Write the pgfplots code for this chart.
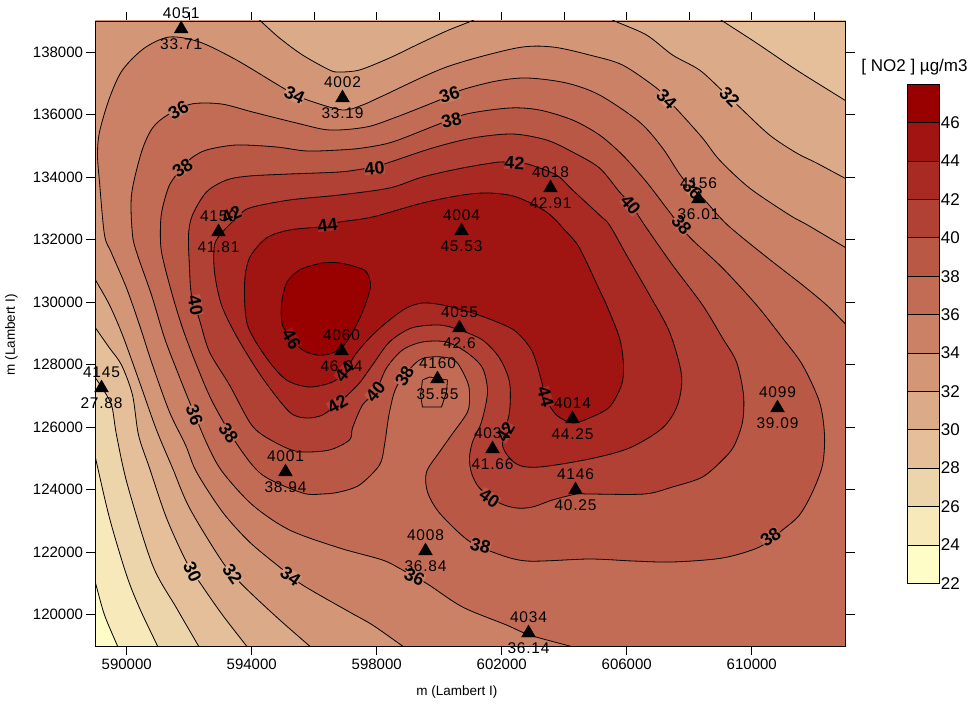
\documentclass[border=0pt]{standalone}
\usepackage{fontspec}
\setmainfont{Liberation Sans}
\newfontfamily\stfont[LetterSpace=5]{Liberation Sans}
\usepackage{pgfplots}
\usepackage{pgfplotstable}
\pgfplotsset{compat=1.18}
\definecolor{c22}{HTML}{FEFDC8}
\definecolor{c24}{HTML}{F7E9BA}
\definecolor{c26}{HTML}{EDD5AB}
\definecolor{c28}{HTML}{E4BF9A}
\definecolor{c30}{HTML}{DBAA88}
\definecolor{c32}{HTML}{D39778}
\definecolor{c34}{HTML}{CB8166}
\definecolor{c36}{HTML}{C26C55}
\definecolor{c38}{HTML}{B95845}
\definecolor{c40}{HTML}{B14135}
\definecolor{c42}{HTML}{A92A23}
\definecolor{c44}{HTML}{A01511}
\definecolor{c46}{HTML}{990000}
\pgfplotstableread{
x y id val
591742 138776 4051 33.71
596904 136568 4002 33.19
603560 133688 4018 42.91
608296 133336 4156 36.01
592936 132280 4150 41.81
600712 132312 4004 45.53
596872 128472 4060 46.04
600648 129208 4055 42.6
599944 127576 4160 35.55
589192 127288 4145 27.88
604264 126296 4014 44.25
610824 126648 4099 39.09
601704 125336 4032 41.66
595080 124600 4001 38.94
604360 124024 4146 40.25
599560 122072 4008 36.84
602856 119448 4034 36.14
}\stations
\pgfplotsset{
  cont/.style={smooth, draw=black, line width=0.8pt, no marks, forget plot},
}
\tikzset{
  clab/.style={font=\fontsize{18}{18}\selectfont\bfseries, text=black, inner sep=0pt},
}
\begin{document}
\begin{tikzpicture}
\useasboundingbox (0,0) rectangle (972pt,705pt);
% top ticks
\begin{axis}[
  at={(95.5pt,59pt)}, anchor=south west, width=750pt, height=625pt, scale only axis,
  xmin=589000, xmax=613000, ymin=119000, ymax=139000,
  xtick={590000,592000,...,612000}, xticklabels={}, xtick pos=upper, ytick=\empty,
  scaled ticks=false,
  tick align=outside, major tick length=9pt, tick style={black, line width=0.8pt},
  axis line style={line width=0.8pt},
]
\end{axis}
\begin{axis}[
  at={(95.5pt,59pt)}, anchor=south west, width=750pt, height=625pt, scale only axis,
  xmin=589000, xmax=613000, ymin=119000, ymax=139000,
  clip mode=individual, axis on top,
  xtick={590000,594000,...,610000}, xtick pos=lower,
  ytick={120000,122000,...,138000}, ytick pos=both,
  scaled ticks=false,
  tick align=outside, major tick length=9pt, tick style={black, line width=0.8pt},
  axis line style={line width=0.8pt},
  /pgf/number format/assume math mode=true,
  /pgf/number format/fixed, /pgf/number format/precision=0,
  /pgf/number format/1000 sep={}, 
  ticklabel style={font=\fontsize{15}{15}\selectfont},
  xlabel={m (Lambert I)}, ylabel={m (Lambert I)},
  label style={font=\fontsize{13.5}{14}\selectfont},
  xlabel style={at={(axis description cs:0.482,0)}, anchor=center, yshift=-46pt},
  ylabel style={at={(axis description cs:0,0.498)}, anchor=center, yshift=84pt},
]
% background: below 24
\addplot[fill=c22, draw=none, forget plot] coordinates {(584600,143200)(617300,143200)(617300,114700)(584600,114700)} -- cycle;
% >= 24
\addplot[cont, fill=c24] coordinates {(587848,125112)(588712,122040)(589000,121016)(589288,119992)(589704,119000)(590120,118008)(591368,115032)(617300,114700)(617300,143200)(584600,143200)(584600,125112)};
% >= 26
\addplot[cont, fill=c26] coordinates {(588104,128856)(588776,125976)(589000,125016)(589448,123096)(589992,121272)(590408,120216)(590984,119000)(591432,118040)(592840,115032)(617300,114700)(617300,143200)(584600,143200)(584600,128856)};
% >= 28
\addplot[cont, fill=c28] coordinates {(587464,129880)(588616,128152)(589000,127576)(589192,127288)(589512,126712)(589672,125752)(590024,124152)(590824,121592)(591592,120216)(592296,119000)(592840,118040)(594472,115224)(617300,114700)(617300,143200)(584600,143200)(584600,129880)};
% >= 30
\addplot[cont, fill=c30] coordinates {(587208,131736)(588552,129816)(589000,129176)(589448,128536)(589832,127992)(590184,127032)(590376,125752)(590728,124696)(591272,123096)(591912,121688)(592392,120952)(593064,119992)(593832,119000)(594600,118008)(596904,115032)(617300,114700)(616808,134072)(613928,135864)(612968,136472)(611432,137432)(610152,138296)(609064,139000)(607976,139704)(604712,141816)(584600,143200)(584600,131736)};
% >= 32
\addplot[cont, fill=c32] coordinates {(587208,133912)(588552,131512)(589000,130712)(589448,129912)(589864,128952)(590408,127448)(590952,125912)(591464,124696)(592008,123416)(593064,121688)(593704,120952)(594792,119928)(595848,119000)(596904,118072)(600136,115224)(617300,114700)(616584,132056)(613864,133496)(612968,133976)(612072,134456)(611432,134776)(610568,135352)(609608,136248)(609032,136792)(608328,137432)(607464,137912)(606632,138552)(605608,139000)(604584,139448)(601992,139416)(601032,139000)(600232,138680)(599272,138232)(598408,137816)(597448,137432)(596808,137368)(596488,137432)(595624,137912)(594888,138456)(594280,139000)(593672,139544)(592488,140632)(589128,143512)(584600,143200)(584600,133912)};
% >= 34
\addplot[cont, fill=c34] coordinates {(616648,129592)(614088,131096)(612968,131768)(611784,132472)(611208,132792)(609928,133656)(608968,134552)(608424,135256)(607624,136152)(607272,136504)(606952,136856)(605864,137592)(604808,137912)(603624,138168)(602472,138136)(600232,137528)(598184,136600)(597544,136312)(596904,136152)(595784,136472)(595112,136792)(593512,137752)(592328,138328)(591368,138488)(590568,138136)(589864,137432)(589448,136536)(589128,135448)(589064,134712)(589128,133848)(589288,132152)(589512,131576)(589992,130456)(590408,129272)(590824,127992)(591368,126488)(591880,125432)(592232,124568)(593064,123288)(593928,122328)(594888,121528)(595624,120952)(597128,120088)(597864,119672)(598824,119000)(599784,118328)(605128,114712)(617300,114700)};
% >= 36
\addplot[cont, fill=c36] coordinates {(616648,125656)(613928,128376)(612968,129336)(612392,129912)(611624,130552)(610472,131448)(609224,132472)(608488,133272)(607784,133976)(607144,134936)(606408,135768)(605128,136632)(604072,137016)(602824,137176)(601832,137080)(600712,136792)(600008,136472)(598632,135928)(597672,135608)(596488,135512)(595432,135736)(594024,136088)(593032,136344)(592072,136344)(591304,135992)(590824,135576)(590472,134808)(590152,133432)(590184,132152)(590344,131512)(590792,130232)(591208,128856)(591624,127768)(592008,126808)(592584,125432)(593064,124568)(594024,123512)(595208,122712)(596808,122136)(598184,121752)(598824,121432)(599624,120984)(600744,120248)(602152,119672)(602888,119352)(604168,119000)(605448,118648)(608008,117272)(617300,114700)};
% >= 38
\addplot[cont, fill=c38] coordinates {(591752,134296)(592072,134616)(592552,134872)(593512,135032)(594792,134968)(595752,134840)(596808,134872)(597544,134936)(598504,135128)(599912,135672)(600872,136024)(602248,136216)(603208,136152)(604264,135832)(605128,135352)(605864,134712)(606632,133848)(607368,132888)(608008,132088)(609064,131096)(610152,129912)(610984,128856)(611624,127992)(612168,126808)(612328,125752)(612264,124792)(611944,123928)(611528,123192)(610984,122712)(610248,122168)(609064,121816)(607464,121688)(606184,121720)(604808,121784)(602792,121720)(601704,122008)(600904,122392)(600008,123256)(599624,123928)(599592,124568)(600008,125208)(600392,125752)(600904,126488)(600968,127032)(600904,127448)(600552,128088)(600104,128248)(599368,128152)(598664,127352)(598408,126488)(598248,125432)(598088,124792)(597448,124152)(596808,123928)(596264,123864)(595624,123896)(594344,124472)(593544,125432)(592744,126808)(592232,127992)(591784,129176)(591432,130328)(591112,131608)(591080,132472)(591144,133016)(591368,133752)(591752,134296)};
% island around 4160
\addplot[draw=black, line width=0.8pt, no marks, forget plot] coordinates {(599464,127512)(599688,127608)(600264,127512)(600232,127128)(600072,126648)(599464,126648)(599400,127032)(599464,127512)};
% >= 40
\addplot[cont, fill=c40] coordinates {(597928,134328)(598344,134456)(599784,134936)(601064,135256)(602344,135384)(603432,135192)(604264,134808)(605128,134296)(605768,133528)(606152,133112)(606568,132472)(607464,131192)(608424,129912)(609064,128856)(609512,128088)(609736,127032)(609704,126168)(609448,125432)(609128,125016)(608424,124408)(607464,124088)(606568,123864)(604808,123864)(604392,123864)(603624,123672)(602984,123448)(602472,123416)(601928,123576)(601288,124056)(601032,124536)(600968,125016)(601064,125528)(601352,126168)(601544,127128)(601384,127896)(600904,128376)(600232,128728)(599464,128728)(598824,128472)(598312,127896)(597960,127128)(597544,126712)(597224,125976)(597128,125592)(596488,125272)(595624,125208)(595112,125336)(594344,125752)(593928,126168)(593288,127352)(592648,128408)(592328,129432)(592072,130232)(592008,131096)(591976,132152)(592104,132792)(592552,133528)(593192,133912)(593928,134040)(595208,134104)(596808,134168)(597544,134264)(597928,134328)};
% >= 42
\addplot[cont, fill=c42] coordinates {(602408,134456)(602824,134424)(603752,134072)(604264,133592)(605128,132792)(605448,132472)(605992,131512)(606728,130232)(607368,129048)(607752,127672)(607624,126712)(607144,125976)(606088,125336)(604808,124984)(603208,124728)(602472,124824)(602024,125432)(602248,126488)(602248,127448)(601928,128216)(601384,128792)(600648,129112)(600008,129272)(599112,129176)(598408,128728)(597864,127992)(597448,127416)(597064,127032)(596744,126744)(596264,126392)(595752,126296)(595208,126488)(594344,127576)(593544,128856)(593032,129912)(592808,130968)(592808,131832)(593064,132248)(593512,132696)(593928,133016)(595208,133272)(596808,133432)(598408,133656)(599464,134008)(600744,134296)(601928,134488)(602408,134456)};
% >= 44
\addplot[cont, fill=c44] coordinates {(596424,132472)(596808,132568)(597864,132728)(599464,133176)(600744,133432)(601608,133496)(602472,133368)(603432,132888)(604072,132248)(604488,131736)(605128,130392)(605352,129912)(605768,128856)(605896,127992)(605832,127352)(605448,126648)(604808,126296)(604264,126136)(603752,126392)(603368,126968)(603304,127352)(602984,128408)(602472,129048)(601928,129336)(601064,129656)(600104,129912)(599464,129976)(598952,129816)(598408,129432)(597864,128952)(597352,128376)(596968,127768)(596584,127448)(595848,127288)(595112,127512)(594472,128216)(593864,129272)(593768,130552)(593928,131416)(594472,132056)(595208,132312)(596168,132408)(596424,132472)};
% >= 46
\addplot[cont, fill=c46] coordinates {(595272,128824)(594984,129272)(594952,129912)(595112,130616)(595528,131032)(596264,131256)(596808,131256)(597352,131128)(597672,130968)(597800,130488)(597544,129688)(597224,129048)(596904,128568)(596488,128344)(596072,128312)(595624,128472)(595272,128824)};
% contour labels
\node[clab, fill=c32, rotate=-25] at (axis cs:595368,136632) {34};
\node[clab, fill=c34, rotate=30] at (axis cs:591656,136152) {36};
\node[clab, fill=c36, rotate=35] at (axis cs:591784,134296) {38};
\node[clab, fill=c40, rotate=25] at (axis cs:593352,132792) {42};
\node[clab, fill=c42, rotate=7] at (axis cs:596424,132472) {44};
\node[clab, fill=c38, rotate=5] at (axis cs:597928,134296) {40};
\node[clab, fill=c36, rotate=13] at (axis cs:600392,135832) {38};
\node[clab, fill=c34, rotate=17] at (axis cs:600328,136632) {36};
\node[clab, fill=c40, rotate=-3] at (axis cs:602408,134456) {42};
\node[clab, fill=c32, rotate=-45] at (axis cs:607272,136504) {34};
\node[clab, fill=c30, rotate=-45] at (axis cs:609288,136568) {32};
\node[clab, fill=c38, rotate=-50] at (axis cs:606120,133112) {40};
\node[clab, fill=c36, rotate=-50] at (axis cs:607752,132472) {38};
\node[clab, fill=c34, rotate=-50] at (axis cs:608104,133592) {36};
\node[clab, fill=c38, rotate=-80] at (axis cs:592200,129912) {40};
\node[clab, fill=c44, rotate=-60] at (axis cs:595272,128824) {46};
\node[clab, fill=c42, rotate=50] at (axis cs:596968,127768) {44};
\node[clab, fill=c40, rotate=30] at (axis cs:596744,126744) {42};
\node[clab, fill=c34, rotate=-70] at (axis cs:592168,126392) {36};
\node[clab, fill=c36, rotate=-55] at (axis cs:593256,125816) {38};
\node[clab, fill=c28, rotate=-65] at (axis cs:592104,121368) {30};
\node[clab, fill=c30, rotate=-55] at (axis cs:593384,121304) {32};
\node[clab, fill=c32, rotate=-35] at (axis cs:595240,121240) {34};
\node[clab, fill=c38, rotate=50] at (axis cs:597960,127128) {40};
\node[clab, fill=c36, rotate=60] at (axis cs:598888,127640) {38};
\node[clab, fill=c42, rotate=-75] at (axis cs:603400,126968) {44};
\node[clab, fill=c40, rotate=60] at (axis cs:602120,125848) {42};
\node[clab, fill=c38, rotate=-35] at (axis cs:601608,123736) {40};
\node[clab, fill=c36, rotate=-15] at (axis cs:601320,122200) {38};
\node[clab, fill=c34, rotate=-25] at (axis cs:599208,121208) {36};
\node[clab, fill=c36, rotate=35] at (axis cs:610600,122488) {38};
% stations
\addplot[only marks, mark=triangle*, mark size=8pt, mark options={black, draw=black, fill=black, yshift=-1pt},
  point meta=explicit symbolic, nodes near coords,
  every node near coord/.append style={font=\stfont\fontsize{15.5}{16}\selectfont, anchor=south, inner sep=0pt, yshift=10pt, black}]
  table[x=x, y=y, meta=id] {\stations};
\addplot[only marks, mark=none,
  point meta=explicit symbolic, nodes near coords,
  every node near coord/.append style={font=\stfont\fontsize{15.5}{16}\selectfont, anchor=north, inner sep=0pt, yshift=-10pt, black}]
  table[x=x, y=y, meta=val] {\stations};
\end{axis}
% colour scale
\begin{axis}[
  at={(907.3pt,121.7pt)}, anchor=south west, width=32.4pt, height=499pt, scale only axis,
  xmin=0, xmax=1, ymin=22, ymax=48,
  xtick=\empty, ytick={22,24,...,46}, ytick pos=right, yticklabel pos=right,
  major tick length=0pt, axis on top, axis line style={line width=0.8pt},
  /pgf/number format/assume math mode=true,
  ticklabel style={font=\fontsize{17}{17}\selectfont, inner sep=1pt},
]
\addplot[fill=c22, draw=black, line width=0.8pt] coordinates {(0,22)(1,22)(1,24)(0,24)} -- cycle;
\addplot[fill=c24, draw=black, line width=0.8pt] coordinates {(0,24)(1,24)(1,26)(0,26)} -- cycle;
\addplot[fill=c26, draw=black, line width=0.8pt] coordinates {(0,26)(1,26)(1,28)(0,28)} -- cycle;
\addplot[fill=c28, draw=black, line width=0.8pt] coordinates {(0,28)(1,28)(1,30)(0,30)} -- cycle;
\addplot[fill=c30, draw=black, line width=0.8pt] coordinates {(0,30)(1,30)(1,32)(0,32)} -- cycle;
\addplot[fill=c32, draw=black, line width=0.8pt] coordinates {(0,32)(1,32)(1,34)(0,34)} -- cycle;
\addplot[fill=c34, draw=black, line width=0.8pt] coordinates {(0,34)(1,34)(1,36)(0,36)} -- cycle;
\addplot[fill=c36, draw=black, line width=0.8pt] coordinates {(0,36)(1,36)(1,38)(0,38)} -- cycle;
\addplot[fill=c38, draw=black, line width=0.8pt] coordinates {(0,38)(1,38)(1,40)(0,40)} -- cycle;
\addplot[fill=c40, draw=black, line width=0.8pt] coordinates {(0,40)(1,40)(1,42)(0,42)} -- cycle;
\addplot[fill=c42, draw=black, line width=0.8pt] coordinates {(0,42)(1,42)(1,44)(0,44)} -- cycle;
\addplot[fill=c44, draw=black, line width=0.8pt] coordinates {(0,44)(1,44)(1,46)(0,46)} -- cycle;
\addplot[fill=c46, draw=black, line width=0.8pt] coordinates {(0,46)(1,46)(1,48)(0,48)} -- cycle;
\end{axis}
\node[font=\fontsize{17}{17}\selectfont, inner sep=0pt] at (914.5pt,638pt) {[ NO2 ] µg/m3};
\end{tikzpicture}
\end{document}
